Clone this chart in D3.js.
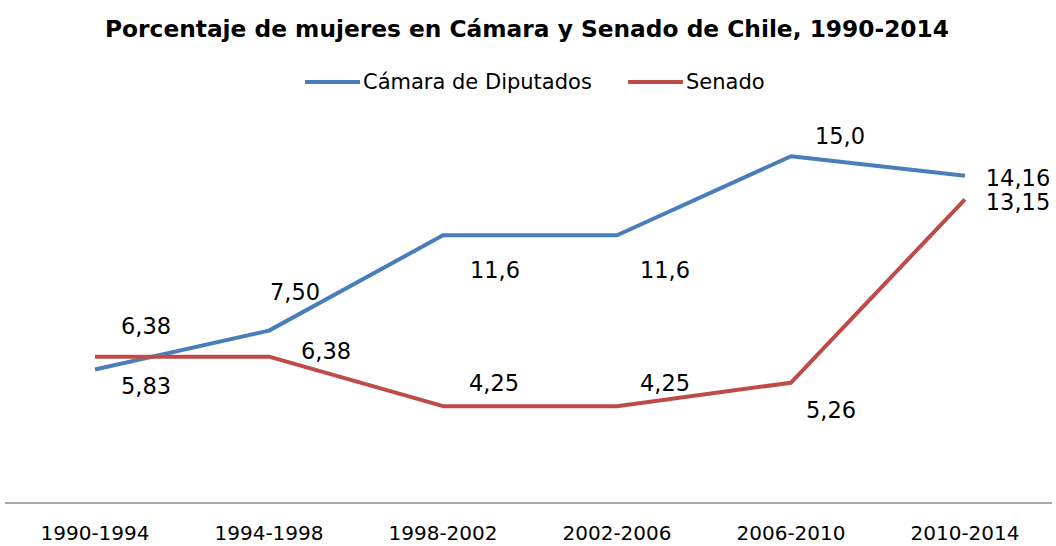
<!DOCTYPE html>
<html>
<head>
<meta charset="utf-8">
<script src="https://cdn.jsdelivr.net/npm/d3@7"></script>
<style>
  body { margin: 0; background: #fff; }
  text { font-family: "DejaVu Sans", sans-serif; fill: #000; }
</style>
</head>
<body>
<svg id="chart" width="1056" height="546"></svg>
<script>
const periods = ['1990-1994', '1994-1998', '1998-2002', '2002-2006', '2006-2010', '2010-2014']
const camara = [5.83, 7.50, 11.6, 11.6, 15.0, 14.16]
const senado = [6.38, 6.38, 4.25, 4.25, 5.26, 13.15]
const camaraLabels = ['5,83', '7,50', '11,6', '11,6', '15,0', '14,16']
const senadoLabels = ['6,38', '6,38', '4,25', '4,25', '5,26', '13,15']

// label offsets from the point (px), picked by eye
const camaraOff = [[51, 25], [26, -31], [52, 43], [48, 43], [49, -12], [53, 10]]
const senadoOff = [[51, -23], [57, 2], [51, -15], [48, -15], [40, 35], [53, 11]]

const svg = d3.select('#chart')

let x = d3.scaleBand().domain(periods).range([8, 1052])
let y = d3.scaleLinear().domain([0, 16]).range([505, 133])
let cx = d => x(d) + x.bandwidth() / 2

// title
svg.append('text')
  .attr('x', 527).attr('y', 37)
  .attr('text-anchor', 'middle')
  .style('font-size', '23.3px')
  .style('font-weight', 'bold')
  .text('Porcentaje de mujeres en Cámara y Senado de Chile, 1990-2014')

// baseline axis
let xAxis = svg.append('g')
  .attr('transform', 'translate(0,503)')
  .call(d3.axisBottom(x).tickSize(0).tickPadding(23))
xAxis.select('.domain').attr('stroke', '#aaa').attr('stroke-width', 2).attr('d', 'M5,0H1052')
xAxis.selectAll('text').style('font-size', '20px').style('font-family', '"DejaVu Sans", sans-serif')

const series = [
  {name: 'Cámara de Diputados', values: camara, labels: camaraLabels, off: camaraOff, color: '#4a7ebb'},
  {name: 'Senado', values: senado, labels: senadoLabels, off: senadoOff, color: '#be4b48'}
]

let line = d3.line()
  .x((d, i) => cx(periods[i]))
  .y(d => y(d))

series.forEach(s => {
  svg.append('path')
    .datum(s.values)
    .attr('fill', 'none')
    .attr('stroke', s.color)
    .attr('stroke-width', 4)
    .attr('stroke-linejoin', 'round')
    .attr('d', line)

  svg.selectAll(null)
    .data(s.values)
    .enter()
    .append('text')
    .attr('x', (d, i) => cx(periods[i]) + s.off[i][0])
    .attr('y', (d, i) => y(d) + s.off[i][1])
    .attr('text-anchor', 'middle')
    .style('font-size', '22.5px')
    .text((d, i) => s.labels[i])
})

// legend
let legendPos = [305, 628]
series.forEach((s, i) => {
  let g = svg.append('g').attr('transform', `translate(${legendPos[i]},82)`)
  g.append('line')
    .attr('x1', 0).attr('x2', 55)
    .attr('stroke', s.color).attr('stroke-width', 4)
  g.append('text')
    .attr('x', 58).attr('y', 7)
    .style('font-size', '21px')
    .text(s.name)
})
</script>
</body>
</html>
